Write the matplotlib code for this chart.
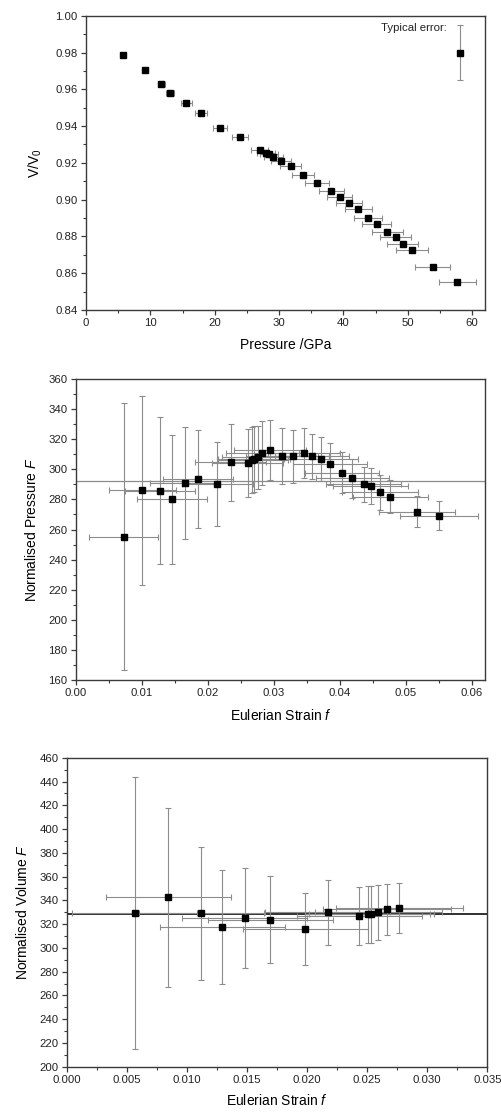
import matplotlib
matplotlib.use("Agg")
import matplotlib.pyplot as plt
from matplotlib.ticker import MultipleLocator, FormatStrFormatter

plt.rcParams['font.family'] = ['Liberation Sans', 'DejaVu Sans']
plt.rcParams['mathtext.fontset'] = 'custom'
plt.rcParams['mathtext.rm'] = 'Liberation Sans'
plt.rcParams['mathtext.it'] = 'Liberation Sans:italic'

# --- panel 1: compression curve ---
pressure = [5.8, 9.2, 11.7, 13.1, 15.6, 17.9, 20.8, 24.0, 27.0, 28.0, 28.4, 29.1,
            30.3, 31.8, 33.7, 35.9, 38.1, 39.4, 40.9, 42.3, 43.8, 45.2, 46.8,
            48.1, 49.2, 50.6, 53.9, 57.7]
pressure_err = [0.3, 0.45, 0.55, 0.65, 0.8, 0.95, 1.1, 1.25, 1.35, 1.4, 1.4, 1.45,
                1.5, 1.6, 1.7, 1.84, 1.92, 2.0, 2.05, 2.1, 2.2, 2.25, 2.4,
                2.4, 2.45, 2.5, 2.7, 2.85]
vol_ratio = [0.9786, 0.9705, 0.9627, 0.9578, 0.9527, 0.9469, 0.9389, 0.9339,
             0.9268, 0.9252, 0.9246, 0.9230, 0.9210, 0.9183, 0.9134, 0.9089,
             0.9048, 0.9016, 0.8983, 0.8949, 0.8902, 0.8866, 0.8822, 0.8797,
             0.8760, 0.8726, 0.8632, 0.8554]
typical_p = 58.1
typical_v = 0.980
typical_verr = 0.015

# --- panel 2: normalised pressure vs Eulerian strain ---
strain_p = [0.00722, 0.01005, 0.01277, 0.01454, 0.01646, 0.01848, 0.02141, 0.02343,
            0.02600, 0.02671, 0.02700, 0.02757, 0.02827, 0.02939, 0.03126, 0.03288,
            0.03455, 0.03580, 0.03712, 0.03853, 0.04035, 0.04191, 0.04364, 0.04470,
            0.04610, 0.04762, 0.05166, 0.05505]
strain_p_err = [0.0052, 0.0051, 0.0053, 0.0053, 0.0053, 0.0053, 0.0054, 0.0054,
                0.0054, 0.0054, 0.0054, 0.0054, 0.0055, 0.0055, 0.0055, 0.0055,
                0.0055, 0.0056, 0.0056, 0.0056, 0.0056, 0.0056, 0.0057, 0.0057,
                0.0057, 0.0057, 0.0058, 0.0059]
norm_p = [255.2, 286.0, 285.8, 280.1, 291.1, 293.6, 290.2, 304.6, 304.0, 306.2,
          306.8, 308.0, 310.8, 312.8, 309.0, 308.6, 310.6, 308.6, 306.8, 303.7,
          297.7, 294.0, 290.0, 288.9, 284.7, 281.8, 271.8, 269.2]
norm_p_err = [88.6, 62.7, 48.7, 42.7, 37.2, 32.8, 27.7, 25.5, 22.5, 22.0, 22.0,
              21.0, 21.0, 20.0, 18.5, 17.5, 16.6, 15.0, 14.4, 14.0, 13.7, 13.0,
              11.7, 12.0, 11.5, 11.0, 10.2, 9.5]
norm_p_fit = 292.2

# --- panel 3: normalised volume vs Eulerian strain ---
strain_v = [0.00568, 0.00846, 0.01118, 0.01295, 0.01481, 0.01692, 0.01986, 0.02174,
            0.02435, 0.02505, 0.02535, 0.02593, 0.02665, 0.02768]
strain_v_err = [0.0052, 0.0052, 0.0052, 0.0052, 0.0052, 0.0052, 0.0052, 0.0052,
                0.0052, 0.0052, 0.0052, 0.0053, 0.0053, 0.0053]
norm_v = [329.1, 342.5, 329.1, 317.3, 325.1, 323.7, 315.9, 329.9, 326.8, 328.2,
          328.2, 329.9, 332.4, 333.8]
norm_v_err = [114.5, 75.3, 56.0, 48.1, 41.8, 36.5, 30.7, 27.3, 24.7, 23.8, 23.8,
              22.9, 21.7, 20.9]
norm_v_fit = 328.2

ecol = '#8c8c8c'
eb = dict(fmt='s', color='black', ms=4.5, ecolor=ecol, elinewidth=0.8,
          capsize=2.2, capthick=0.8, zorder=3)
tick_fs = 8.2
label_fs = 10

fig = plt.figure(figsize=(5.02, 11.15), dpi=100)
ax1 = fig.add_axes([0.1713, 0.7220, 0.7948, 0.2639])
ax2 = fig.add_axes([0.1514, 0.3901, 0.8147, 0.2700])
ax3 = fig.add_axes([0.1329, 0.0433, 0.8378, 0.2771])


def style(ax):
    for s in ax.spines.values():
        s.set_color('#3a3a3a')
        s.set_linewidth(1.0)
    ax.tick_params(which='both', direction='out', top=False, right=False,
                   colors='#3a3a3a', labelcolor='#222222', labelsize=tick_fs)
    ax.tick_params(which='major', length=3.5, width=0.9, pad=2.5)
    ax.tick_params(which='minor', length=2, width=0.8)


# panel 1
ax1.errorbar(pressure, vol_ratio, xerr=pressure_err, **eb)
ax1.errorbar([typical_p], [typical_v], yerr=[typical_verr], **eb)
ax1.text(typical_p - 2.0, 0.9935, 'Typical error:', ha='right', va='center',
         fontsize=tick_fs, color='#222222')
ax1.set_xlim(0, 62)
ax1.set_ylim(0.84, 1.00)
ax1.xaxis.set_major_locator(MultipleLocator(10))
ax1.xaxis.set_minor_locator(MultipleLocator(5))
ax1.yaxis.set_major_locator(MultipleLocator(0.02))
ax1.yaxis.set_minor_locator(MultipleLocator(0.01))
ax1.yaxis.set_major_formatter(FormatStrFormatter('%.2f'))
ax1.set_xlabel('Pressure /GPa', fontsize=label_fs, labelpad=7)
ax1.set_ylabel('V/V$_0$', fontsize=label_fs, labelpad=8)
style(ax1)

# panel 2
ax2.axhline(norm_p_fit, color='#8c8c8c', lw=0.9, zorder=1)
ax2.errorbar(strain_p, norm_p, xerr=strain_p_err, yerr=norm_p_err, **eb)
ax2.set_xlim(0, 0.062)
ax2.set_ylim(160, 360)
ax2.xaxis.set_major_locator(MultipleLocator(0.01))
ax2.xaxis.set_minor_locator(MultipleLocator(0.005))
ax2.xaxis.set_major_formatter(FormatStrFormatter('%.2f'))
ax2.yaxis.set_major_locator(MultipleLocator(20))
ax2.yaxis.set_minor_locator(MultipleLocator(10))
ax2.set_xlabel('Eulerian Strain $f$', fontsize=label_fs, labelpad=7)
ax2.set_ylabel('Normalised Pressure $F$', fontsize=label_fs, labelpad=7)
style(ax2)

# panel 3
ax3.axhline(norm_v_fit, color='#202020', lw=1.3, zorder=1)
ax3.errorbar(strain_v, norm_v, xerr=strain_v_err, yerr=norm_v_err, **eb)
ax3.set_xlim(0, 0.035)
ax3.set_ylim(200, 460)
ax3.xaxis.set_major_locator(MultipleLocator(0.005))
ax3.xaxis.set_minor_locator(MultipleLocator(0.0025))
ax3.xaxis.set_major_formatter(FormatStrFormatter('%.3f'))
ax3.yaxis.set_major_locator(MultipleLocator(20))
ax3.yaxis.set_minor_locator(MultipleLocator(10))
ax3.set_xlabel('Eulerian Strain $f$', fontsize=label_fs, labelpad=6)
ax3.set_ylabel('Normalised Volume $F$', fontsize=label_fs, labelpad=7)
style(ax3)

fig.savefig('out.png', dpi=100)
